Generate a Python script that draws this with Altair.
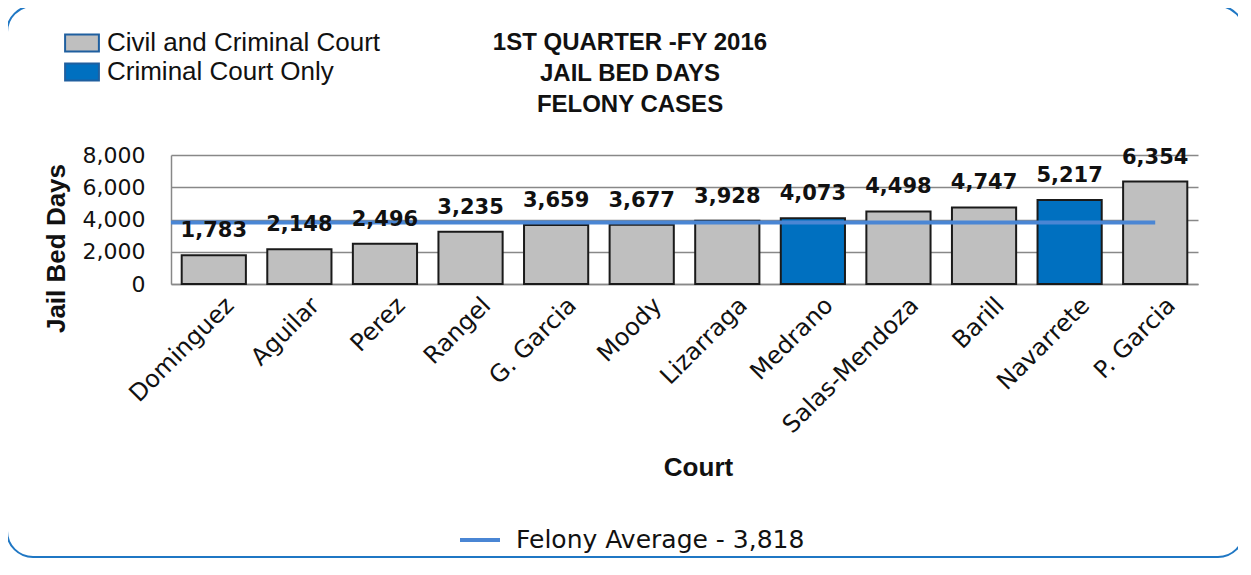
import altair as alt
import pandas as pd

courts = ["Dominguez", "Aguilar", "Perez", "Rangel", "G. Garcia", "Moody",
          "Lizarraga", "Medrano", "Salas-Mendoza", "Barill", "Navarrete", "P. Garcia"]
values = [1783, 2148, 2496, 3235, 3659, 3677, 3928, 4073, 4498, 4747, 5217, 6354]
types = ["Civil and Criminal Court"] * 7 + ["Criminal Court Only"] + \
        ["Civil and Criminal Court"] * 2 + ["Criminal Court Only"] + ["Civil and Criminal Court"]
type_names = ["Civil and Criminal Court", "Criminal Court Only"]
type_colors = ["#bfbfbf", "#0070c0"]
average = 3818
avg_label = "Felony Average - 3,818"
y_ticks = [0, 2000, 4000, 6000, 8000]
title_lines = ["1ST QUARTER -FY 2016", "JAIL BED DAYS", "FELONY CASES"]

df = pd.DataFrame({"Court": courts, "Days": values, "Type": types})
df["Label"] = [f"{v:,}" for v in values]
avg_df = pd.DataFrame({"Avg": [average], "Series": [avg_label], "Court": [courts[-1]]})

FONT = "DejaVu Sans"
x_enc = alt.X("Court:N", sort=courts, title="Court",
              scale=alt.Scale(paddingInner=0.25, paddingOuter=0.125))
y_axis = alt.Axis(values=y_ticks, format=",.0f", labelOverlap=False, tickCount=10,
                  grid=True)
y_scale = alt.Scale(domain=[0, 8000])

base = alt.Chart(df)
one = pd.DataFrame({"k": [0]})

frame = alt.Chart(one).mark_rect(
    fill="transparent", stroke="#1f77c4", strokeWidth=2, cornerRadius=26
).encode(x=alt.value(-164), x2=alt.value(1073), y=alt.value(-149), y2=alt.value(402))

title = alt.Chart(one).mark_text(
    text=title_lines, font="Liberation Sans", fontSize=24, fontWeight="bold",
    color="#111", lineHeight=31, align="center", baseline="middle"
).encode(x=alt.value(459), y=alt.value(-112))

bars = base.mark_bar(stroke="#1a1a1a", strokeWidth=2).encode(
    x=x_enc,
    y=alt.Y("Days:Q", title="Jail Bed Days", scale=y_scale, axis=y_axis),
    fill=alt.Fill("Type:N", scale=alt.Scale(domain=type_names, range=type_colors),
                  legend=alt.Legend(title=None, orient="none", legendX=-103, legendY=-126,
                                    symbolType="M-1.3,-0.65H1.3V0.65H-1.3Z", symbolSize=676,
                                    symbolStrokeColor="#1f5f9f", symbolStrokeWidth=2,
                                    symbolOpacity=1, labelLimit=0,
                                    labelFont="Liberation Sans", labelFontSize=26,
                                    labelColor="#111", rowPadding=2, labelOffset=11)),
)

labels = base.mark_text(font=FONT, fontSize=21, fontWeight="bold", baseline="alphabetic",
                        dy=-18, color="#111").encode(
    x=x_enc, y=alt.Y("Days:Q", title="Jail Bed Days", scale=y_scale, axis=y_axis),
    text="Label:N")

line = alt.Chart(avg_df).mark_rule(strokeWidth=4).encode(
    x=x_enc,
    x2=alt.value(0),
    y=alt.Y("Avg:Q", title="Jail Bed Days", scale=y_scale, axis=y_axis),
    stroke=alt.Stroke("Series:N", scale=alt.Scale(domain=[avg_label], range=["#4a86d4"]),
                      legend=alt.Legend(title=None, orient="none", legendX=287, legendY=363,
                                        symbolType="stroke", symbolStrokeWidth=4, symbolSize=1600,
                                        labelFont=FONT, labelFontSize=25, labelColor="#111",
                                        labelOffset=14, labelLimit=0)),
)

chart = alt.layer(frame, title, bars, line, labels).properties(
    width=1027, height=129,
    autosize=alt.AutoSizeParams(type="none"),
    padding={"left": 163, "top": 147, "right": 40, "bottom": 280},
).configure_view(stroke=None).configure_axis(
    gridColor="#888", gridWidth=1.5, domainColor="#888", domainWidth=1.5, ticks=False,
    labelFont=FONT, labelFontSize=22, labelColor="#111",
    titleFont="Liberation Sans", titleFontSize=26, titleFontWeight="bold", titleColor="#111",
).configure_axisY(
    labelPadding=26, titleAngle=-90, titleX=-102, titleY=93,
    titleAlign="center", titleBaseline="bottom",
).configure_axisX(
    grid=False, labelAngle=-45, labelAlign="right", labelBaseline="top", labelPadding=9,
    labelOffset=8, labelFontSize=24, labelLimit=0,
    titleX=527, titleY=183, titleAlign="center", titleBaseline="middle",
)

chart.save("out.html", embed_options={"renderer": "svg", "actions": False})
